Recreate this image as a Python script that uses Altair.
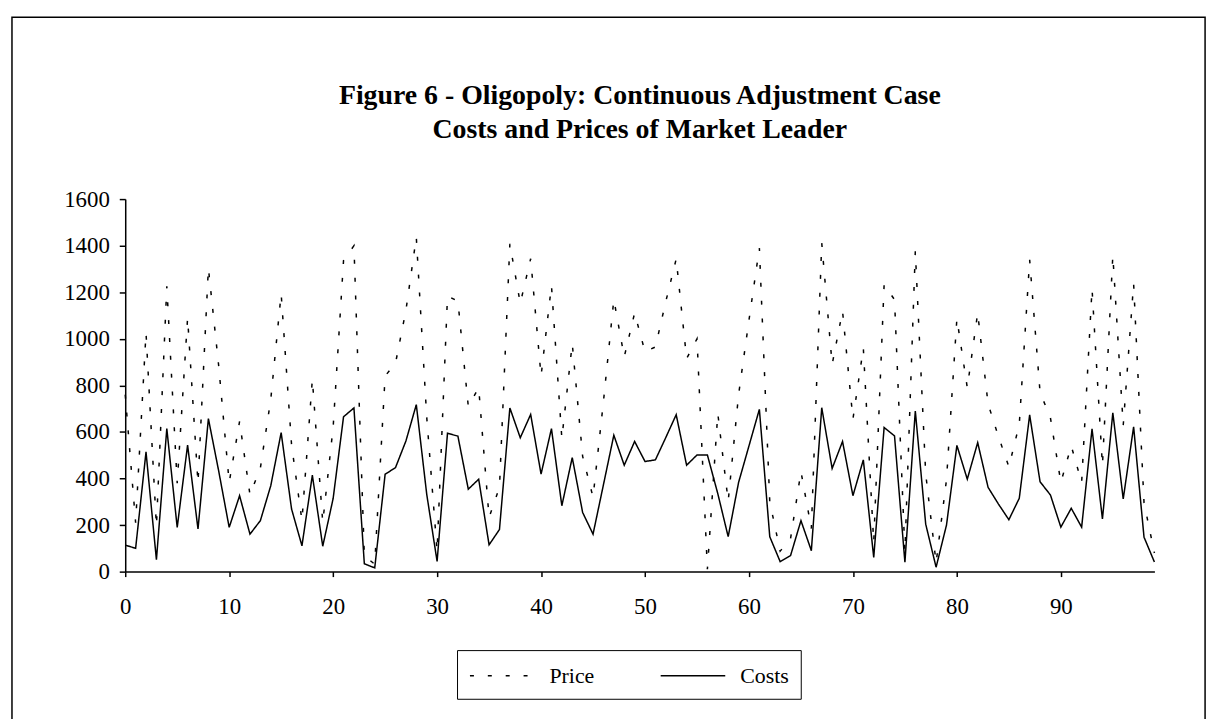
import altair as alt
import pandas as pd

periods = list(range(100))

costs = [114, 100, 514, 51, 614, 190, 543, 183, 657, 430,
         190, 326, 161, 219, 369, 597, 269, 111, 414, 109,
         314, 665, 703, 34, 16, 418, 447, 561, 717, 333,
         44, 594, 582, 354, 397, 115, 181, 703, 575, 675,
         419, 614, 283, 490, 254, 161, 373, 586, 457, 559,
         473, 480, 576, 674, 457, 501, 501, 335, 150, 383,
         540, 697, 150, 43, 69, 219, 90, 704, 443, 559,
         326, 480, 61, 619, 583, 40, 690, 204, 19, 200,
         542, 397, 554, 362, 290, 223, 315, 673, 386, 329,
         191, 272, 191, 613, 226, 682, 312, 622, 148, 41]

price = [760, 210, 1026, 195, 1226, 380, 1090, 380, 1304, 880,
         383, 645, 330, 445, 740, 1194, 545, 219, 826, 211,
         620, 1336, 1400, 68, 32, 840, 895, 1122, 1436, 665,
         88, 1183, 1162, 710, 790, 233, 362, 1408, 1152, 1344,
         840, 1229, 572, 980, 495, 320, 730, 1169, 922, 1111,
         944, 965, 1160, 1343, 915, 1000, 10, 680, 302, 760,
         1080, 1390, 300, 88, 142, 430, 185, 1411, 890, 1119,
         655, 960, 125, 1233, 1168, 85, 1376, 420, 38, 395,
         1087, 790, 1111, 720, 580, 450, 632, 1339, 770, 660,
         383, 540, 383, 1216, 455, 1358, 628, 1237, 296, 80]

series_names = ["Price", "Costs"]
x_ticks = list(range(0, 100, 10))
y_ticks = list(range(0, 1601, 200))
title_lines = ["Figure 6 - Oligopoly: Continuous Adjustment Case",
               "Costs and Prices of Market Leader"]

rows = []
for name, vals in zip(series_names, [price, costs]):
    for t, v in zip(periods, vals):
        rows.append({"t": t, "value": v, "series": name})
df = pd.DataFrame(rows)

FONT = "Liberation Serif"
W, H = 1036, 375

lines = alt.Chart(df).mark_line(strokeWidth=1.5, color="black").encode(
    x=alt.X("t:Q", scale=alt.Scale(domain=[0, 99], nice=False, zero=False),
            axis=alt.Axis(values=x_ticks, title=None, grid=False,
                          labelFont=FONT, labelFontSize=23, labelColor="black",
                          tickSize=5, tickColor="black", tickWidth=1.5,
                          domainColor="black", domainWidth=1.5,
                          labelPadding=19, labelAngle=0, labelOverlap=False,
                          labelFlush=False)),
    y=alt.Y("value:Q", scale=alt.Scale(domain=[0, 1600], nice=False),
            axis=alt.Axis(values=y_ticks, format="d", title=None, grid=False,
                          labelFont=FONT, labelFontSize=23, labelColor="black",
                          tickSize=6, tickColor="black", tickWidth=1.5,
                          domainColor="black", domainWidth=1.5,
                          labelPadding=10, labelOverlap=False, labelFlush=False)),
    strokeDash=alt.StrokeDash(
        "series:N",
        scale=alt.Scale(domain=series_names, range=[[4, 14], [1, 0]]),
        legend=alt.Legend(title=None, orient="none", direction="horizontal",
                          legendX=334, legendY=454,
                          symbolType="M-1,0H4.2", symbolSize=625,
                          symbolStrokeColor="black", symbolStrokeWidth=1.5,
                          symbolFillColor="transparent",
                          labelFont=FONT, labelFontSize=22, labelColor="black",
                          labelOffset=54, columnPadding=63,
                          padding=12, strokeColor="black",
                          fillColor="white")),
    detail="series:N",
)

frame = alt.Chart(alt.Data(values=[{"f": 1}])).mark_rect(
    fillOpacity=0, stroke="black", strokeWidth=1.5
).encode(
    x=alt.value(-114), x2=alt.value(1087),
    y=alt.value(-183), y2=alt.value(526),
)

chart = alt.layer(frame, lines).properties(
    width=W, height=H,
    title=alt.TitleParams(text=title_lines, font=FONT, fontSize=28,
                          fontWeight="bold", color="black", lineHeight=34,
                          anchor="middle", frame="group", offset=-128),
    autosize=alt.AutoSizeParams(type="none"),
    padding={"left": 118, "top": 190, "right": 63, "bottom": 146},
).configure(background="white").configure_view(strokeWidth=0, stroke=None)

chart.save("out.html", embed_options={"renderer": "svg", "actions": False})
